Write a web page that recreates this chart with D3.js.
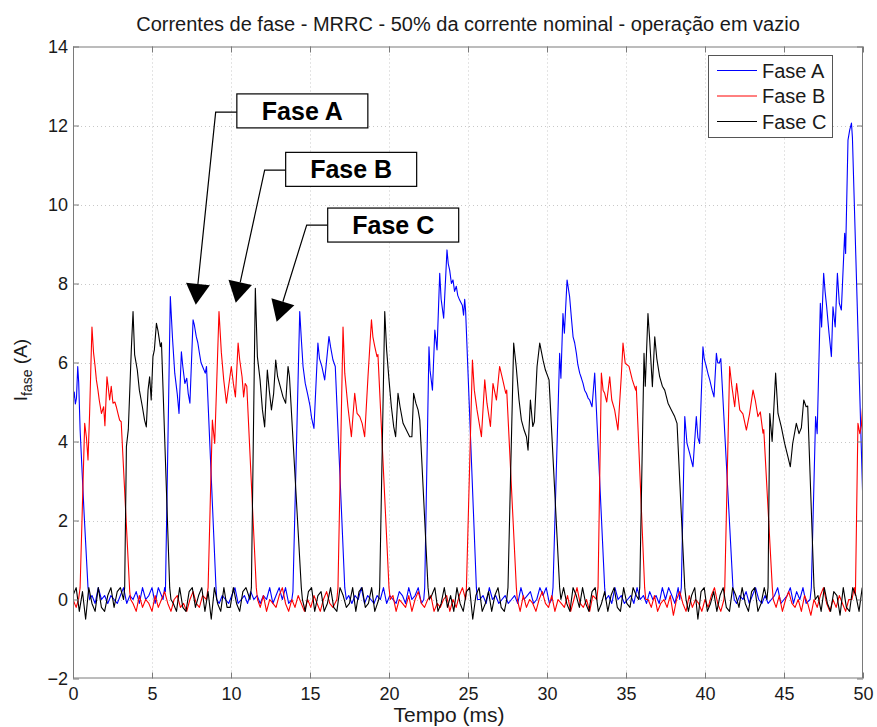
<!DOCTYPE html>
<html><head><meta charset="utf-8">
<script src="https://cdn.jsdelivr.net/npm/d3@7"></script>
<style>
html,body{margin:0;padding:0;background:#fff;}
svg{display:block;font-family:Arial,"Liberation Sans",Helvetica,sans-serif;}
</style></head><body>
<svg id="chart" width="877" height="727"></svg>
<script>
// ---------- chart texts ----------
const titleText = "Correntes de fase - MRRC - 50% da corrente nominal - operação em vazio";
const xLabelText = "Tempo (ms)";
const yLabelMain = "I";
const yLabelSub = "fase";
const yLabelUnit = " (A)";
const xTicks = [0, 5, 10, 15, 20, 25, 30, 35, 40, 45, 50];
const yTicks = [-2, 0, 2, 4, 6, 8, 10, 12, 14];
const seriesNames = ["Fase A", "Fase B", "Fase C"];
const seriesColors = ["#0000ff", "#ff0000", "#000000"];

// ---------- conduction pulses [t (ms), I (A)] ----------
const pulsesA = [
  [[0,5.0],[0.08,5.25],[0.15,4.95],[0.22,5.1],[0.3,5.9],[0.36,5.5],[0.45,4.3],[0.7,2.2],[0.95,0.3],[1.05,0]],
  [[5.7,0],[5.8,0.3],[5.85,0.2],[6.16,7.67],[6.3,6.6],[6.44,5.73],[6.6,5.2],[6.71,4.71],[6.86,6.27],[6.95,5.9],[7.08,5.47],[7.2,5.6],[7.29,5.22],[7.4,4.97],[7.6,7.08],[7.68,6.95],[7.8,6.66],[7.9,6.5],[8.0,6.24],[8.1,6.0],[8.2,5.9],[8.3,5.8],[8.37,5.73],[8.45,5.9],[9.05,0.3],[9.1,0]],
  [[13.85,0],[13.92,0.2],[14.35,7.29],[14.45,6.6],[14.56,5.9],[14.7,5.47],[14.85,5.2],[15.0,4.9],[15.1,4.6],[15.25,4.33],[15.5,6.49],[15.6,6.1],[15.75,5.9],[15.93,5.56],[16.2,6.66],[16.3,6.4],[16.45,6.07],[16.6,5.9],[17.2,0.3],[17.3,0]],
  [[22.2,0],[22.26,0.3],[22.53,6.4],[22.6,5.8],[22.75,5.3],[22.9,6.82],[23.04,6.32],[23.21,8.26],[23.3,7.6],[23.46,7.12],[23.67,8.85],[23.75,8.5],[23.84,8.34],[23.95,8.0],[24.05,8.09],[24.15,7.8],[24.26,7.93],[24.35,7.7],[24.47,7.58],[24.64,7.45],[24.72,7.2],[24.79,7.6],[24.85,7.3],[25.53,0.3],[25.6,0]],
  [[30.3,0],[30.38,0.3],[30.8,6.23],[30.88,5.6],[31.01,7.24],[31.1,6.74],[31.27,8.09],[31.43,7.67],[31.55,7.1],[31.65,6.65],[31.75,6.5],[31.86,6.23],[31.95,5.95],[32.07,5.73],[32.18,5.6],[32.28,5.47],[32.38,5.3],[32.49,5.22],[32.6,5.1],[32.7,5.05],[32.85,4.88],[33.02,5.73],[33.65,0.3],[33.72,0]],
  [[38.4,0],[38.5,0.3],[38.72,4.63],[38.86,3.95],[39.03,3.7],[39.15,3.5],[39.24,3.36],[39.45,4.63],[39.55,4.1],[39.66,3.95],[39.87,6.4],[39.95,6.1],[40.08,5.9],[40.2,5.7],[40.3,5.56],[40.45,5.3],[40.57,5.13],[40.72,6.23],[40.8,6.0],[40.9,5.98],[41.0,6.1],[41.77,0.3],[41.85,0]],
  [[46.65,0],[46.73,0.3],[47.0,4.63],[47.1,4.2],[47.3,7.5],[47.38,6.9],[47.51,8.26],[47.6,7.8],[47.7,7.41],[47.85,6.74],[48.0,6.15],[48.1,7.41],[48.24,6.9],[48.38,8.26],[48.5,7.5],[48.63,7.33],[48.84,9.27],[48.9,8.76],[49.05,11.63],[49.16,11.89],[49.27,12.06],[49.33,11.7],[50.0,2.35]]
];
const pulsesB = [
  [[0.35,0],[0.45,0.3],[0.74,4.46],[0.85,4.1],[0.95,3.53],[1.05,4.7],[1.2,6.9],[1.3,6.25],[1.4,5.9],[1.48,5.56],[1.58,5.3],[1.66,5.05],[1.8,4.71],[1.94,4.88],[2.02,4.4],[2.15,5.64],[2.25,5.3],[2.32,5.05],[2.42,5.4],[2.53,4.97],[2.65,5.0],[2.74,4.88],[2.85,4.7],[2.95,4.54],[3.05,4.5],[3.59,0.2],[3.65,0]],
  [[8.45,0],[8.55,0.3],[8.82,4.54],[8.97,3.95],[9.08,5.3],[9.24,7.29],[9.39,6.25],[9.54,5.56],[9.71,4.97],[9.85,5.4],[10.02,5.9],[10.15,5.47],[10.28,5.13],[10.45,6.49],[10.55,6.07],[10.7,5.64],[10.8,5.13],[10.9,5.47],[11.0,5.4],[11.6,0.3],[11.68,0]],
  [[16.7,0],[16.77,0.3],[17.09,6.9],[17.2,5.73],[17.4,4.88],[17.62,4.12],[17.83,5.22],[17.98,4.71],[18.15,4.63],[18.3,4.46],[18.46,4.12],[18.67,5.64],[18.89,7.08],[18.98,6.65],[19.1,6.4],[19.24,6.15],[19.3,6.2],[20.0,0.3],[20.08,0]],
  [[24.85,0],[24.9,0.3],[25.28,6.06],[25.4,5.3],[25.57,4.8],[25.85,4.12],[26.06,5.56],[26.2,4.97],[26.42,4.38],[26.58,5.47],[26.8,5.05],[27.0,5.9],[27.2,5.56],[27.39,5.22],[27.45,5.3],[28.06,0.3],[28.12,0]],
  [[33.15,0],[33.23,0.3],[33.44,5.73],[33.55,5.3],[33.65,5.22],[33.78,5.0],[33.97,5.64],[34.1,5.05],[34.28,4.8],[34.49,4.29],[34.7,5.64],[34.81,6.49],[34.95,5.98],[35.19,5.9],[35.4,5.56],[35.61,5.3],[35.65,5.4],[36.18,0.3],[36.25,0]],
  [[41.2,0],[41.25,0.3],[41.56,5.9],[41.7,5.4],[41.88,4.88],[42.0,5.47],[42.2,4.8],[42.4,4.7],[42.62,4.29],[42.82,4.7],[43.04,5.3],[43.18,5.05],[43.35,4.63],[43.5,4.75],[43.67,4.21],[43.72,4.3],[44.26,0.3],[44.32,0]],
  [[49.3,0],[49.45,0.3],[49.52,0.1],[49.68,4.46],[49.8,4.2],[49.9,4.4],[50.0,5.05]]
];
const pulsesC = [
  [[3.2,0],[3.27,0.3],[3.38,3.87],[3.5,4.3],[3.69,6.32],[3.8,7.29],[3.9,6.2],[4.07,5.81],[4.2,5.3],[4.39,4.88],[4.53,4.54],[4.64,4.37],[4.75,5.3],[4.85,5.64],[4.95,5.05],[5.06,6.15],[5.15,6.32],[5.28,6.99],[5.38,6.8],[5.53,6.4],[5.6,6.5],[6.12,0.3],[6.2,0]],
  [[11.2,0],[11.29,0.3],[11.54,7.88],[11.67,6.15],[11.84,5.56],[11.99,4.8],[12.13,4.37],[12.3,5.81],[12.42,5.3],[12.56,4.8],[12.7,5.22],[12.83,6.06],[12.95,5.64],[13.12,5.39],[13.29,5.13],[13.46,4.97],[13.61,5.9],[13.7,5.64],[14.45,0.3],[14.52,0]],
  [[19.35,0],[19.41,0.3],[19.73,7.29],[19.85,6.32],[20.0,5.56],[20.15,4.88],[20.3,4.37],[20.42,4.12],[20.57,5.22],[20.7,4.88],[20.89,4.46],[21.1,4.29],[21.31,4.12],[21.45,4.12],[21.56,5.22],[21.7,4.97],[21.84,4.8],[21.95,4.54],[22.47,0.3],[22.55,0]],
  [[27.45,0],[27.53,0.3],[27.89,6.49],[28.05,5.9],[28.23,5.05],[28.38,4.54],[28.55,4.29],[28.7,4.12],[28.8,3.78],[28.95,5.05],[29.1,4.38],[29.2,4.5],[29.37,5.9],[29.54,6.49],[29.75,6.06],[29.9,5.81],[30.13,5.56],[30.8,0.3],[30.88,0]],
  [[35.8,0],[35.87,0.3],[36.14,6.23],[36.22,5.4],[36.39,7.24],[36.5,6.57],[36.67,5.39],[36.82,6.65],[36.95,6.1],[37.13,5.64],[37.3,5.4],[37.45,5.3],[37.66,4.97],[37.87,4.8],[38.08,4.63],[38.23,4.46],[38.72,0.3],[38.8,0]],
  [[43.92,0],[43.99,0.3],[44.1,4.71],[44.25,4.0],[44.47,5.73],[44.62,4.71],[44.83,4.37],[45.04,3.95],[45.25,3.61],[45.4,3.36],[45.55,3.95],[45.78,4.46],[45.95,4.2],[46.1,4.35],[46.25,5.05],[46.4,4.88],[46.5,4.9],[46.9,0.3],[46.98,0]]
];

// ---------- off-state noise: [start t (ms), values in 0.1 A, one every 0.2 ms] ----------
const noiseStep = 0.2;
const noiseA = [
  [1.2,  [1,-1,3,0,1,-1,1,0,-1,1,3,-1,1,0,2,-1,3,0,1,3,-1,3]],
  [9.25, [-1,1,0,-1,1,3,-1,0,1,-1,2,0,1,-1,1,0,3,-1,1,3,0,3,-1]],
  [17.45,[1,-1,1,0,3,-1,1,0,-1,1,0,3,-1,1,0,-1,2,1,-1,3,0,1,3,-1]],
  [25.75,[0,1,-1,3,0,1,-1,0,1,-1,0,1,-1,3,0,1,2,-1,0,3,1,3,-1]],
  [33.9, [1,-1,3,0,1,-1,0,1,-1,3,0,1,-1,2,0,1,-1,3,0,3,1,-1,3]],
  [42.0, [-1,1,0,2,-1,1,3,0,-1,1,-1,0,1,3,-1,0,1,3,-1,2,0,3,-1]]
];
const noiseB = [
  [0,    [0,-2]],
  [3.8,  [-1,-3,1,-2,0,-1,-3,1,-2,0,2,-1,-3,0,1,-2,-1,-3,0,2,-1,-2,1]],
  [11.85,[-2,1,-3,0,-1,-2,1,3,-1,-3,0,-2,1,-1,-3,0,-2,1,-1,-3,0,2,-1,-2]],
  [20.25,[1,-3,0,-1,-2,1,-3,0,2,-1,-2,0,1,-3,-1,-2,0,1,-3,0,-2,1,3]],
  [28.3, [-3,1,-2,0,-1,-3,0,2,-1,-2,1,-3,0,-1,-2,1,-3,0,3,-1,-2,0,-3,1]],
  [36.4, [0,-2,1,-3,-1,0,-2,1,-4,0,2,-1,-3,1,-2,0,-1,-3,0,-2,1,3,-1,-3]],
  [44.5, [-2,1,-3,0,2,-1,-2,0,-3,1,-1,-4,0,-2,1,3,-1,-3,0,-2,1,-1,-3,0]]
];
const noiseC = [
  [0,    [1,3,-3,2,-5,3,-1,-3,3,-2,-3,1,3,-2,2,3]],
  [6.35, [-1,-3,3,-2,-3,2,3,-2,1,3,-3,2,-5,3,-1,-3,3,-2,-2,3,-1,-3,2,3]],
  [14.7, [-3,2,3,-3,1,2,-3,-1,3,-2,-3,3,1,-2,-1,3,-3,2,3,-2,-1,3,-3]],
  [22.7, [1,3,-3,-1,3,-2,1,-3,3,-1,-3,2,3,-5,1,3,-3,-1,2,-3,1,3,-2,-3]],
  [31.05,[3,-1,-3,3,1,-2,3,-1,-3,2,3,-3,-1,2,-3,1,3,-2,-3,3,-1,-2,3,1]],
  [38.95,[-3,1,3,-5,2,3,-3,-1,2,-3,1,3,-2,-3,3,1,-2,3,-1,-3,2,3,-3,-1,3]],
  [47.15,[1,-3,3,-1,-3,2,1,-4,3,-2,-3,3,1,-3,3]]
];

// ---------- annotations (data coordinates) ----------
const annotLabels = ["Fase A", "Fase B", "Fase C"];
const annotBoxCorner = [[10.37, 12.80], [13.46, 11.32], [16.12, 9.91]];
const annotElbow = [[9.03, 12.34], [12.13, 10.87], [14.79, 9.48]];
const annotTip = [[7.77, 7.46], [10.30, 7.51], [12.89, 7.03]];

// ---------- build ----------
const svg = d3.select("#chart");
const W = 877, H = 727;
const plot = {left: 73, right: 863, top: 46.5, bottom: 678.5};
const x = d3.scaleLinear().domain([0, 50]).range([plot.left, plot.right]);
const y = d3.scaleLinear().domain([-2, 14]).range([plot.bottom, plot.top]);

svg.append("rect").attr("width", W).attr("height", H).attr("fill", "#fff");

svg.append("defs").append("clipPath").attr("id", "clip")
  .append("rect").attr("x", plot.left).attr("y", plot.top)
  .attr("width", plot.right - plot.left).attr("height", plot.bottom - plot.top);

// grid
const grid = svg.append("g").attr("stroke", "#c8c8c8").attr("stroke-width", 1).attr("stroke-dasharray", "1,3");
grid.selectAll(".gx").data(xTicks.slice(1, -1)).enter().append("line")
  .attr("x1", d => Math.round(x(d)) + 0.5).attr("x2", d => Math.round(x(d)) + 0.5)
  .attr("y1", plot.top).attr("y2", plot.bottom);
grid.selectAll(".gy").data(yTicks.slice(1, -1)).enter().append("line")
  .attr("y1", d => Math.round(y(d)) + 0.5).attr("y2", d => Math.round(y(d)) + 0.5)
  .attr("x1", plot.left).attr("x2", plot.right);

function buildSeries(pulses, noise) {
  const pts = [];
  pulses.forEach(p => p.forEach(q => pts.push(q)));
  const ranges = pulses.map(p => [p[0][0], p[p.length - 1][0]]);
  noise.forEach(([t0, vals]) => vals.forEach((v, i) => {
    const t = +(t0 + i * noiseStep).toFixed(3);
    if (t >= 0 && t <= 50 && !ranges.some(r => t >= r[0] && t <= r[1])) pts.push([t, v / 10]);
  }));
  pts.sort((a, b) => a[0] - b[0]);
  return pts;
}
const series = [buildSeries(pulsesA, noiseA), buildSeries(pulsesB, noiseB), buildSeries(pulsesC, noiseC)];

const line = d3.line().x(d => x(d[0])).y(d => y(d[1]));
const dataG = svg.append("g").attr("clip-path", "url(#clip)");
series.forEach((s, i) => {
  dataG.append("path").datum(s).attr("d", line)
    .attr("fill", "none").attr("stroke", seriesColors[i]).attr("stroke-width", 1.1)
    .attr("stroke-linejoin", "round");
});

// axes box and ticks
const axisColor = "#7a7a7a";
svg.append("rect").attr("x", plot.left + 0.5).attr("y", plot.top + 0.5)
  .attr("width", plot.right - plot.left - 1).attr("height", plot.bottom - plot.top - 1)
  .attr("fill", "none").attr("stroke", axisColor).attr("stroke-width", 1);

const bottomAxis = d3.axisBottom(x).tickValues(xTicks).tickSizeInner(-6).tickSizeOuter(0).tickPadding(9).tickFormat(d3.format("d"));
const topAxis = d3.axisTop(x).tickValues(xTicks).tickSizeInner(-6).tickSizeOuter(0).tickFormat("");
const leftAxis = d3.axisLeft(y).tickValues(yTicks).tickSizeInner(-6).tickSizeOuter(0).tickPadding(5).tickFormat(d3.format("d"));
const rightAxis = d3.axisRight(y).tickValues(yTicks).tickSizeInner(-6).tickSizeOuter(0).tickFormat("");

function styleAxis(g) {
  g.select(".domain").remove();
  g.selectAll(".tick line").attr("stroke", axisColor);
  g.selectAll(".tick text").attr("fill", "#1a1a1a").style("font-size", "18px")
    .style("font-family", "Arial, 'Liberation Sans', sans-serif");
}
svg.append("g").attr("transform", `translate(0,${plot.bottom})`).call(bottomAxis).call(styleAxis);
svg.append("g").attr("transform", `translate(0,${plot.top})`).call(topAxis).call(styleAxis);
svg.append("g").attr("transform", `translate(${plot.left},0)`).call(leftAxis).call(styleAxis);
svg.append("g").attr("transform", `translate(${plot.right},0)`).call(rightAxis).call(styleAxis);

// title and labels
svg.append("text").attr("x", (plot.left + plot.right) / 2).attr("y", 31)
  .attr("text-anchor", "middle").style("font-size", "20px").attr("fill", "#1a1a1a").text(titleText);
svg.append("text").attr("x", 449).attr("y", 722)
  .attr("text-anchor", "middle").style("font-size", "21px").attr("fill", "#1a1a1a").text(xLabelText);
const yl = svg.append("text").attr("transform", "translate(27,370) rotate(-90)")
  .attr("text-anchor", "middle").style("font-size", "19px").attr("fill", "#1a1a1a");
yl.append("tspan").text(yLabelMain);
yl.append("tspan").attr("dy", 5).style("font-size", "14px").text(yLabelSub);
yl.append("tspan").attr("dy", -5).text(yLabelUnit);

// legend
const lg = svg.append("g").attr("transform", `translate(${plot.right - 155},${plot.top + 8.5})`);
lg.append("rect").attr("x", 0.5).attr("y", 0.5).attr("width", 124).attr("height", 82)
  .attr("fill", "#fff").attr("stroke", "#555").attr("stroke-width", 1);
seriesNames.forEach((n, i) => {
  const yy = 15.5 + i * 25.5;
  lg.append("line").attr("x1", 9).attr("x2", 49).attr("y1", yy).attr("y2", yy)
    .attr("stroke", seriesColors[i]).attr("stroke-width", 1);
  lg.append("text").attr("x", 54).attr("y", yy).attr("dy", "0.35em")
    .style("font-size", "20px").attr("fill", "#1a1a1a").text(n);
});

// annotations
const boxW = 131, boxH = 34, headLen = 21, headHalf = 12;
annotLabels.forEach((lab, i) => {
  const bx = x(annotBoxCorner[i][0]), by = y(annotBoxCorner[i][1]);
  const ex = x(annotElbow[i][0]), ey = y(annotElbow[i][1]);
  const tx = x(annotTip[i][0]), ty = y(annotTip[i][1]);
  const dx = tx - ex, dy = ty - ey, len = Math.hypot(dx, dy);
  const ux = dx / len, uy = dy / len;
  const baseX = tx - ux * headLen, baseY = ty - uy * headLen;
  svg.append("path")
    .attr("d", `M${bx},${ey}L${ex},${ey}L${baseX},${baseY}`)
    .attr("fill", "none").attr("stroke", "#000").attr("stroke-width", 1.2);
  svg.append("path")
    .attr("d", `M${tx},${ty}L${baseX - uy * headHalf},${baseY + ux * headHalf}L${baseX + uy * headHalf},${baseY - ux * headHalf}Z`)
    .attr("fill", "#000");
  svg.append("rect").attr("x", bx).attr("y", by).attr("width", boxW).attr("height", boxH)
    .attr("fill", "#fff").attr("stroke", "#000").attr("stroke-width", 1.2);
  svg.append("text").attr("x", bx + boxW / 2).attr("y", by + boxH / 2).attr("dy", "0.36em")
    .attr("text-anchor", "middle").style("font-size", "25px").style("font-weight", "bold")
    .attr("fill", "#000").text(lab);
});
</script>
</body></html>
